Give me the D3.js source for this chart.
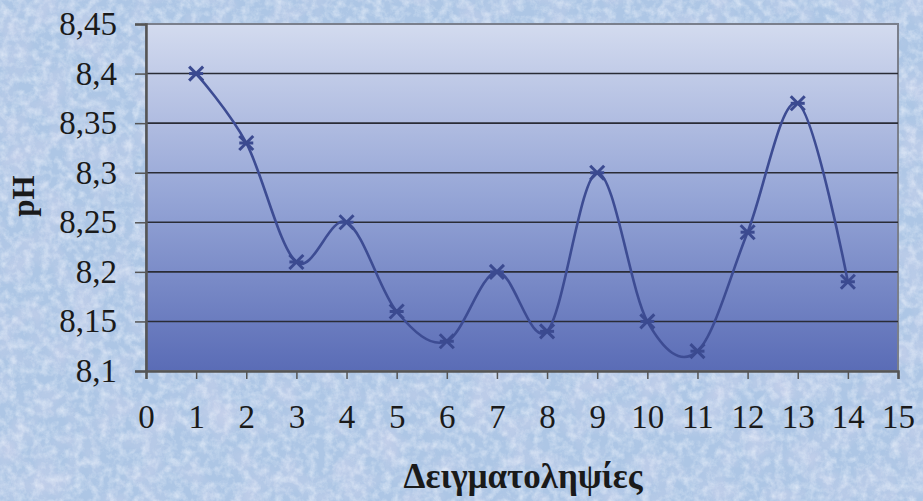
<!DOCTYPE html>
<html><head><meta charset="utf-8">
<script src="https://cdn.jsdelivr.net/npm/d3@7"></script>
<style>html,body{margin:0;padding:0;overflow:hidden;background:#b4cce8}</style>
</head><body>
<script>
const samples = [1,2,3,4,5,6,7,8,9,10,11,12,13,14];
const phValues = [8.40,8.33,8.21,8.25,8.16,8.13,8.20,8.14,8.30,8.15,8.12,8.24,8.37,8.19];
const yTicks = [8.1,8.15,8.2,8.25,8.3,8.35,8.4,8.45];
const xTicks = [0,1,2,3,4,5,6,7,8,9,10,11,12,13,14,15];
const xTitle = "Δειγματοληψίες";
const yTitle = "pH";

const W = 923, H = 501;
const m = {left:146, right:25, top:24, bottom:130};
const svg = d3.select("body").append("svg").attr("width",W).attr("height",H);
const defs = svg.append("defs");

// textured background
const f = defs.append("filter").attr("id","tex").attr("x",0).attr("y",0).attr("width","100%").attr("height","100%");
f.append("feTurbulence").attr("type","fractalNoise").attr("baseFrequency",0.12).attr("numOctaves",4).attr("seed",3).attr("result","n");
f.append("feColorMatrix").attr("in","n").attr("type","matrix")
  .attr("values","0 0 0 0 0.92  0 0 0 0 0.95  0 0 0 0 1  1.3 0 0 0 -0.5");
const f2 = defs.append("filter").attr("id","tex2").attr("x",0).attr("y",0).attr("width","100%").attr("height","100%");
f2.append("feTurbulence").attr("type","fractalNoise").attr("baseFrequency",0.03).attr("numOctaves",3).attr("seed",8).attr("result","n");
f2.append("feColorMatrix").attr("in","n").attr("type","matrix")
  .attr("values","0 0 0 0 0.85  0 0 0 0 0.75  0 0 0 0 0.9  0 1.2 0 0 -0.5");
svg.append("rect").attr("width",W).attr("height",H).attr("fill","#adc6e5");
svg.append("rect").attr("width",W).attr("height",H).attr("filter","url(#tex2)").attr("opacity",0.6);
svg.append("rect").attr("width",W).attr("height",H).attr("filter","url(#tex)").attr("opacity",0.8);

const grad = defs.append("linearGradient").attr("id","pg").attr("x1",0).attr("y1",0).attr("x2",0).attr("y2",1);
grad.append("stop").attr("offset","0%").attr("stop-color","#d3dbef");
grad.append("stop").attr("offset","50%").attr("stop-color","#95a5d6");
grad.append("stop").attr("offset","100%").attr("stop-color","#5a6cb6");

const x = d3.scaleLinear().domain([0,15]).range([m.left, W-m.right]);
const y = d3.scaleLinear().domain([8.1,8.45]).range([H-m.bottom, m.top]);

svg.append("rect").attr("x",x(0)).attr("y",y(8.45)).attr("width",x(15)-x(0)).attr("height",y(8.1)-y(8.45))
  .attr("fill","url(#pg)").attr("stroke","#7a7f8c").attr("stroke-width",2);

// gridlines
svg.append("g").selectAll("line").data(yTicks.filter(t=>t>8.1 && t<8.45)).join("line")
  .attr("x1",x(0)).attr("x2",x(15)).attr("y1",d=>y(d)).attr("y2",d=>y(d))
  .attr("stroke","#2a2c36").attr("stroke-width",1.6);

// axes
const yAxis = svg.append("g").attr("transform",`translate(${x(0)},0)`)
  .call(d3.axisLeft(y).tickValues(yTicks).tickSize(11).tickPadding(18).tickFormat(d=>d3.format(".2~f")(d).replace(".",",")));
const xAxis = svg.append("g").attr("transform",`translate(0,${y(8.1)})`)
  .call(d3.axisBottom(x).tickValues(xTicks).tickSize(8).tickPadding(26).tickFormat(d3.format("d")));
[yAxis,xAxis].forEach(a=>{
  a.select(".domain").attr("stroke","#555").attr("stroke-width",2.5);
  a.selectAll(".tick line").attr("stroke","#555").attr("stroke-width",1.5);
  a.selectAll("text").attr("font-family","'Liberation Serif','Times New Roman',serif").attr("font-size",33).attr("fill","#1a1a1a");
});

// line
const pts = samples.map((s,i)=>[s,phValues[i]]);
const line = d3.line().x(d=>x(d[0])).y(d=>y(d[1])).curve(d3.curveCardinal.tension(0));
svg.append("path").attr("d",line(pts)).attr("fill","none").attr("stroke","#3d4c93").attr("stroke-width",2.6);

// star markers
const mk = svg.append("g").attr("stroke","#3b4a90").attr("stroke-width",3);
pts.forEach(p=>{
  const cx=x(p[0]), cy=y(p[1]), r=7;
  mk.append("line").attr("x1",cx-r).attr("y1",cy-r).attr("x2",cx+r).attr("y2",cy+r);
  mk.append("line").attr("x1",cx-r).attr("y1",cy+r).attr("x2",cx+r).attr("y2",cy-r);
  mk.append("line").attr("x1",cx-r).attr("y1",cy).attr("x2",cx+r).attr("y2",cy);
});

// titles
svg.append("text").attr("x",523).attr("y",488).attr("text-anchor","middle")
  .attr("font-family","'Liberation Serif','Times New Roman',serif").attr("font-weight","bold").attr("font-size",35)
  .attr("fill","#1a1a1a").text(xTitle);
svg.append("text").attr("transform","translate(34,196) rotate(-90)").attr("text-anchor","middle")
  .attr("font-family","'Liberation Serif','Times New Roman',serif").attr("font-weight","bold").attr("font-size",31)
  .attr("fill","#1a1a1a").text(yTitle);
</script>
</body></html>
